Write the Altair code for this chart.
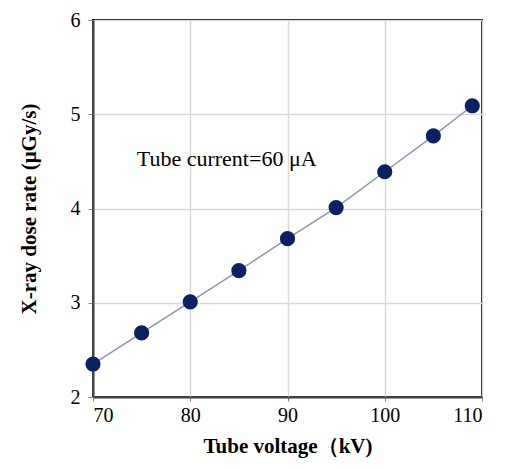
import altair as alt
import pandas as pd

voltage = [70, 75, 80, 85, 90, 95, 100, 105, 109]
dose = [2.35, 2.68, 3.01, 3.34, 3.68, 4.01, 4.39, 4.77, 5.09]

df = pd.DataFrame({"v": voltage, "d": dose})
ann = pd.DataFrame({"v": [74.5], "d": [4.52], "t": ["Tube current=60 μA"]})

FONT = "Liberation Serif"

x = alt.X("v:Q", scale=alt.Scale(domain=[70, 110], nice=False, zero=False),
          axis=alt.Axis(values=[70, 80, 90, 100, 110], format="d", title="Tube voltage（kV)",
                        titleFont=FONT, titleFontSize=21, titleFontWeight="bold",
                        titleColor="black", titlePadding=10,
                        labelFont=FONT, labelFontSize=20, labelColor="black",
                        labelPadding=4, tickSize=4, tickColor="#888",
                        domainColor="#444", domainWidth=2,
                        gridColor="#d9d9d9", gridWidth=1.5))
y = alt.Y("d:Q", scale=alt.Scale(domain=[2, 6], nice=False, zero=False),
          axis=alt.Axis(values=[2, 3, 4, 5, 6], format="d", title="X-ray dose rate (μGy/s)",
                        titleFont=FONT, titleFontSize=21, titleFontWeight="bold",
                        titleColor="black", titlePadding=31,
                        labelFont=FONT, labelFontSize=20, labelColor="black",
                        labelPadding=8, tickSize=5, tickColor="#888",
                        domainColor="#444", domainWidth=2,
                        gridColor="#d9d9d9", gridWidth=1.5))

line = alt.Chart(df).mark_line(color="#8a96b4", strokeWidth=1.5).encode(x=x, y=y)
pts = alt.Chart(df).mark_circle(color="#0b2161", opacity=1, size=230).encode(x=x, y=y)
txt = alt.Chart(ann).mark_text(font=FONT, fontSize=22, align="left", baseline="middle",
                               color="black").encode(x="v:Q", y="d:Q", text="t:N")

chart = (line + pts + txt).properties(
    width=389, height=377,
    autosize=alt.AutoSizeParams(type="none"),
    padding={"left": 85, "top": 12, "right": 10, "bottom": 70},
).configure_view(stroke="black", strokeWidth=2)

chart.save("out.html", embed_options={"renderer": "svg", "actions": False})
